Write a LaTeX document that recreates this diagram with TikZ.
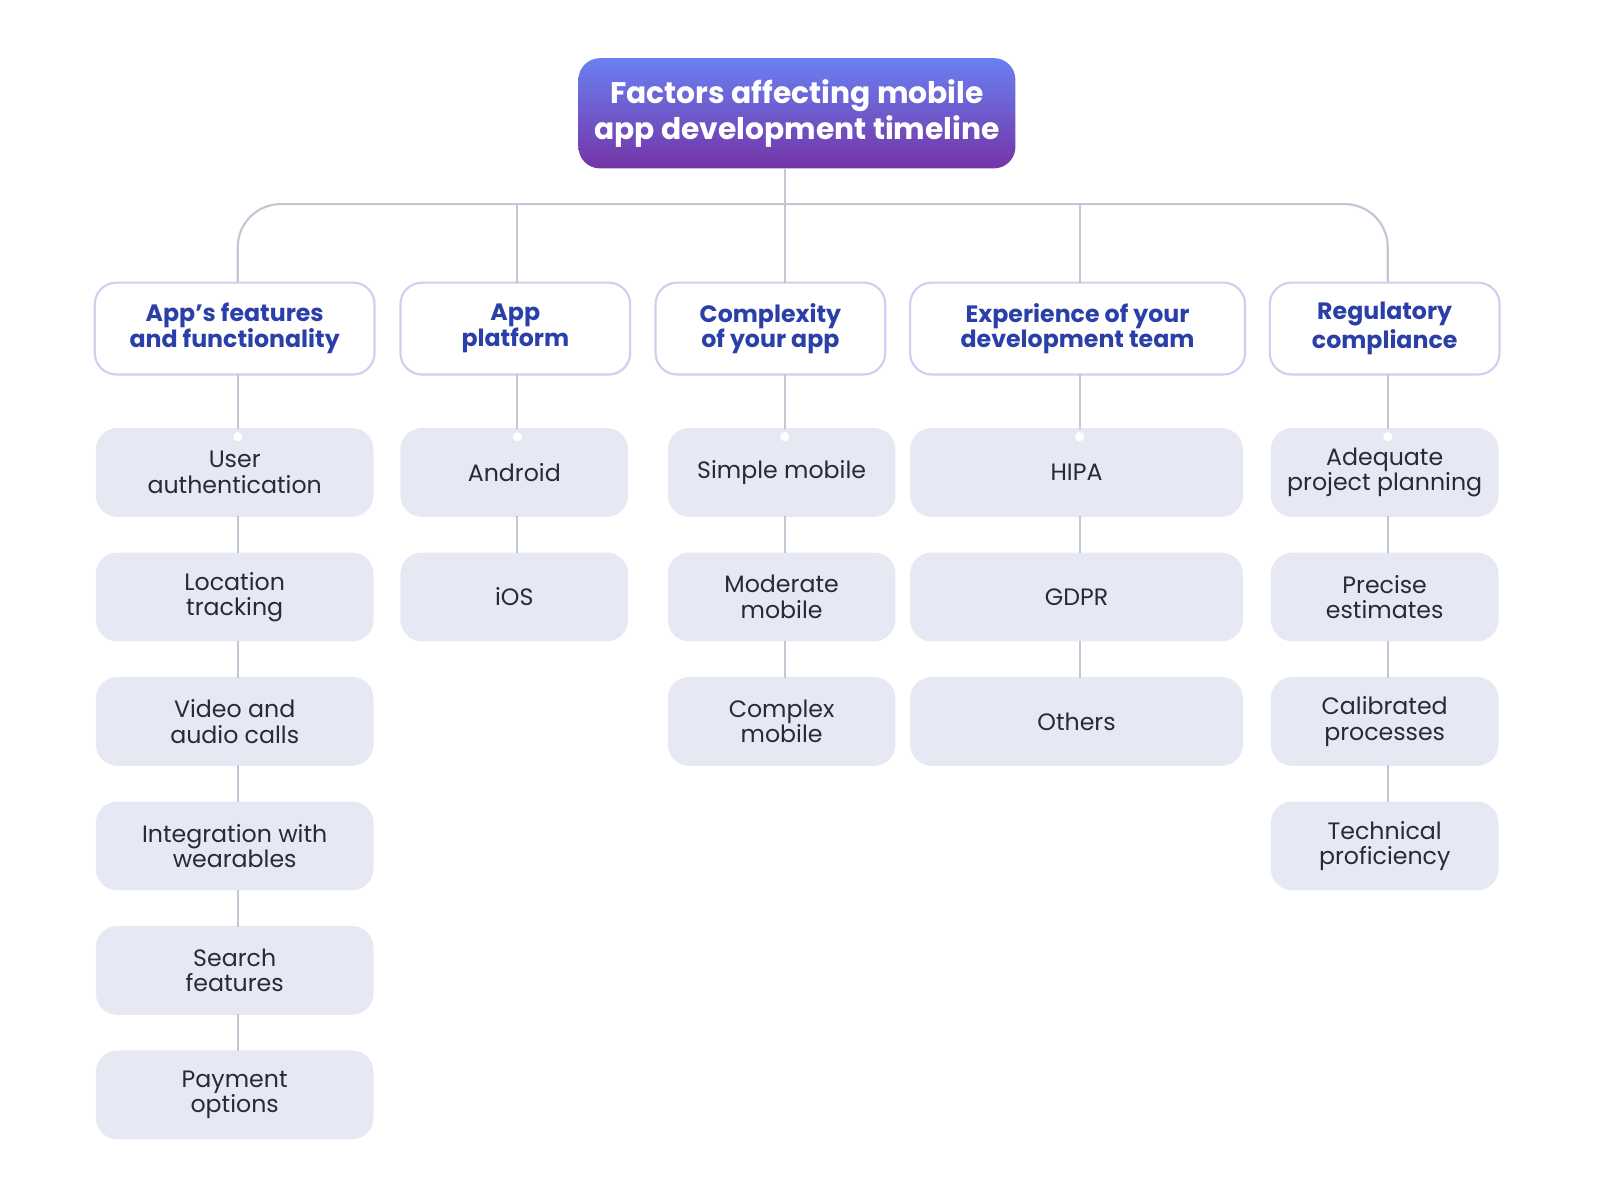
\documentclass[tikz,border=0pt]{standalone}
\usepackage{fontspec}
\setmainfont{Poppins}
\usetikzlibrary{positioning}
\definecolor{topblue}{HTML}{6A80F2}
\definecolor{botpurple}{HTML}{7434A6}
\definecolor{catblue}{HTML}{2B3FA8}
\definecolor{catline}{HTML}{CDD1F0}
\definecolor{leaffill}{HTML}{E6E8F4}
\definecolor{wire}{HTML}{C4C6D4}
\definecolor{ink}{HTML}{2A2A36}
\tikzset{
  title/.style={rounded corners=6pt, top color=topblue, bottom color=botpurple, text=white,
    minimum width=4.28cm, minimum height=1.08cm, align=center,
    font=\fontsize{8.3}{8.6}\selectfont\bfseries},
  cat/.style={rounded corners=6pt, draw=catline, line width=0.6pt, fill=white, text=catblue,
    minimum height=0.9cm, align=center, font=\fontsize{6.6}{7.1}\selectfont\bfseries},
  leaf/.style={rounded corners=6pt, fill=leaffill, text=ink, minimum height=0.87cm,
    align=center, font=\fontsize{6.6}{7.1}\selectfont},
  wire/.style={draw=wire, line width=0.6pt}
}
\begin{document}
\begin{tikzpicture}[x=0.01cm,y=-0.01cm]
\useasboundingbox (0,0) rectangle (1568,1176);

% title and bus
\node[title] (top) at (781,111) {Factors affecting mobile\\app development timeline};
\draw[wire, rounded corners=12pt] (233,277) |- (1360,200) -- (1360,277);
\coordinate (bus) at (769,200);
\draw[wire] (top.south -| bus) -- (bus);

% categories
\node[cat, minimum width=2.74cm] (feat) at (230,322) {App's features\\and functionality};
\node[cat, minimum width=2.25cm] (plat) at (505,322) {App\\platform};
\node[cat, minimum width=2.25cm] (cplx) at (755,322) {Complexity\\of your app};
\node[cat, minimum width=3.28cm] (team) at (1056,322) {Experience of your\\development team};
\node[cat, minimum width=2.25cm] (regu) at (1357,322) {Regulatory\\compliance};
\foreach \c/\x in {plat/507,cplx/769,team/1058}
  \draw[wire] (\x,200) -- (\x,277);

% leaves
\foreach \c/\x/\w/\list in {
  feat/233/2.72/{User\\authentication,Location\\tracking,Video and\\audio calls,Integration with\\wearables,Search\\features,Payment\\options},
  plat/507/2.23/{Android,iOS},
  cplx/769/2.23/{Simple mobile,Moderate\\mobile,Complex\\mobile},
  team/1058/3.26/{HIPA,GDPR,Others},
  regu/1360/2.23/{Adequate\\project planning,Precise\\estimates,Calibrated\\processes,Technical\\proficiency}%
}{
  \coordinate (\c-0) at (\x,367);
  \foreach \t [count=\i, remember=\i as \j (initially 0)] in \list {
    \node[leaf, minimum width=\w cm] (\c-\i) at ([xshift=-0.03cm]\x,341+122*\i) {\t};
    \ifnum\j=0
      \draw[wire] (\c-0) -- (\x,420);
      \fill[white] (\x,428) circle (0.045cm);
    \else
      \draw[wire] (\x,384+122*\j) -- (\x,420+122*\j);
    \fi
  }
}
\end{tikzpicture}
\end{document}
